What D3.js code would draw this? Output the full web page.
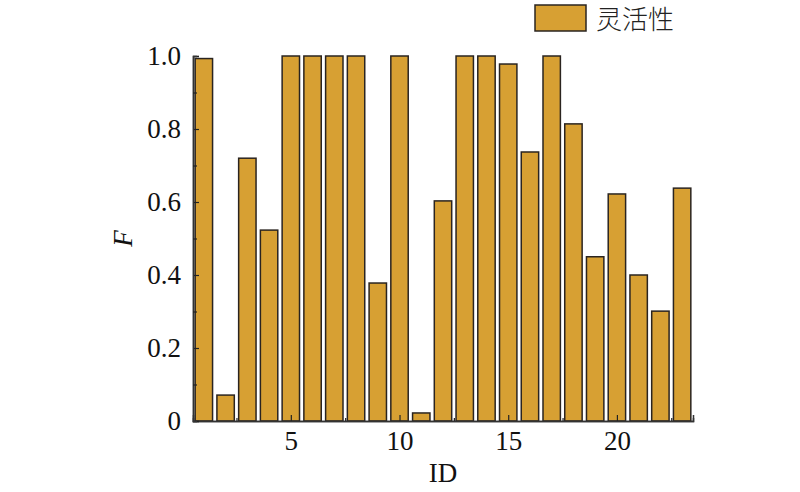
<!DOCTYPE html>
<html><head><meta charset="utf-8">
<script src="https://cdn.jsdelivr.net/npm/d3@7"></script>
<style>body{margin:0;background:#fff}svg{display:block}</style>
</head><body>
<script>
const ids = d3.range(1, 24);
const values = [0.993,0.071,0.72,0.523,1.0,1.0,1.0,1.0,0.378,1.0,0.022,0.603,1.0,1.0,0.978,0.737,1.0,0.814,0.45,0.622,0.4,0.301,0.638];
const seriesName = "灵活性";
const xTicks = [5,10,15,20];
const yTicks = [0,0.2,0.4,0.6,0.8,1.0];

const W=800,H=492;
const m={l:193,r:107,t:56,b:71};
const svg=d3.select("body").append("svg").attr("width",W).attr("height",H);
const x=d3.scaleLinear().domain([0.5,23.5]).range([m.l,W-m.r]);
const y=d3.scaleLinear().domain([0,1]).range([H-m.b,m.t]);
const bw=(x(2)-x(1))*0.8;
const font="'Liberation Serif','Times New Roman',serif";

svg.append("g").selectAll("rect").data(values).join("rect")
  .attr("x",(d,i)=>x(ids[i])-bw/2).attr("width",bw)
  .attr("y",d=>y(d)).attr("height",d=>y(0)-y(d))
  .attr("fill","#D7A033").attr("stroke","#2a2420").attr("stroke-width",1.5);

// axes
const ax=svg.append("g").attr("transform",`translate(0,${y(0)})`)
  .call(d3.axisBottom(x).tickValues(xTicks).tickSize(-6).tickPadding(10).tickFormat(d3.format("d")));
const minorX=svg.append("g").attr("transform",`translate(0,${y(0)})`)
  .call(d3.axisBottom(x).tickValues([2.5,7.5,12.5,17.5,22.5]).tickSize(-3).tickFormat(""));
const ay=svg.append("g").attr("transform",`translate(${x(0.5)},0)`)
  .call(d3.axisLeft(y).tickValues(yTicks).tickSize(-6).tickPadding(12).tickFormat(d=>d===0?"0":d3.format(".1f")(d)));
const minorY=svg.append("g").attr("transform",`translate(${x(0.5)},0)`)
  .call(d3.axisLeft(y).tickValues([0.1,0.3,0.5,0.7,0.9]).tickSize(-4).tickFormat(""));
[ax,minorX,ay,minorY].forEach(g=>{
  g.selectAll(".domain").attr("stroke","#333").attr("stroke-width",1.5);
  g.selectAll(".tick line").attr("stroke","#222").attr("stroke-width",1.2);
  g.selectAll("text").attr("font-family",font).attr("font-size",27).attr("fill","#111");
});

svg.append("text").attr("x",(x(0.5)+x(23.5))/2).attr("y",482)
  .attr("text-anchor","middle").attr("font-family",font).attr("font-size",27).attr("fill","#111").text("ID");
svg.append("text").attr("transform",`translate(132,${(y(0)+y(1))/2}) rotate(-90)`)
  .attr("text-anchor","middle").attr("font-family",font).attr("font-style","italic").attr("font-size",27).attr("fill","#111").text("F");

// legend
svg.append("rect").attr("x",535).attr("y",5).attr("width",51).attr("height",26)
  .attr("fill","#D7A033").attr("stroke","#2a2420").attr("stroke-width",1.5);
svg.append("text").attr("x",596).attr("y",29).attr("font-family","'Noto Sans CJK SC',sans-serif")
  .attr("font-size",26).attr("font-weight",300).attr("fill","#222").text(seriesName);
</script>
</body></html>
